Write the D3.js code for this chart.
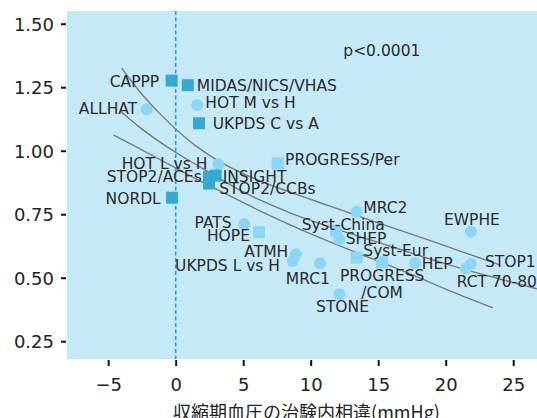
<!DOCTYPE html>
<html>
<head>
<meta charset="utf-8">
<script src="https://cdn.jsdelivr.net/npm/d3@7"></script>
<style>
  html, body { margin: 0; padding: 0; background: #fff; }
  svg { display: block; }
  .lbl { font-family: "DejaVu Sans", sans-serif; font-size: 15.5px; fill: #2a2a2a; }
  .tick-lbl { font-family: "DejaVu Sans", sans-serif; font-size: 18px; fill: #222; }
  .title { font-family: "Noto Sans CJK JP", sans-serif; font-size: 18px; fill: #222; }
</style>
</head>
<body>
<svg id="chart" width="537" height="418"></svg>
<script>
// Trials: systolic BP difference within trial (mmHg) vs. odds ratio
const studies = ["CAPPP", "MIDAS/NICS/VHAS", "ALLHAT", "HOT M vs H", "UKPDS C vs A",
  "HOT L vs H", "STOP2/ACEs", "INSIGHT", "STOP2/CCBs", "NORDL", "PROGRESS/Per",
  "PATS", "HOPE", "ATMH", "UKPDS L vs H", "MRC1", "STONE", "MRC2", "Syst-China",
  "SHEP", "Syst-Eur", "PROGRESS/COM", "HEP", "EWPHE", "STOP1", "RCT 70-80"];
const sbpDiff = [-0.3, 0.9, -2.15, 1.6, 1.73, 3.16, 2.47, 2.96, 2.47, -0.27, 7.56,
  5.08, 6.17, 8.91, 8.67, 10.69, 12.12, 13.41, 11.87, 12.12, 13.41, 15.28, 17.73,
  21.87, 21.87, 21.5];
const oddsRatio = [1.276, 1.258, 1.163, 1.18, 1.108, 0.947, 0.897, 0.902, 0.871, 0.815,
  0.95, 0.711, 0.679, 0.592, 0.566, 0.557, 0.435, 0.76, 0.685, 0.651, 0.579, 0.561,
  0.557, 0.681, 0.554, 0.537];
// marker kind: "c" circle, "s" light square, "d" dark square
const markerKind = ["d", "d", "c", "c", "d", "c", "d", "d", "d", "d", "s", "c", "s",
  "c", "c", "c", "c", "c", "s", "c", "s", "s", "c", "c", "c", "c"];

// Regression line and its confidence limits
const fitX = [-4.07, -2.64, -1.16, 0.32, 1.8, 3.28, 4.76, 6.24, 8.47, 11.87, 15.13,
  18.1, 21.06, 24.02, 26.76];
const fitY = [1.154, 1.091, 1.034, 0.983, 0.936, 0.889, 0.845, 0.806, 0.755, 0.692,
  0.637, 0.586, 0.538, 0.495, 0.456];
const upperX = [-4.0, -2.64, -1.16, 0.32, 1.8, 3.28, 4.76, 6.24, 8.47, 11.43, 14.39,
  18.1, 21.06, 24.02];
const upperY = [1.325, 1.231, 1.145, 1.07, 1.007, 0.956, 0.916, 0.881, 0.837, 0.782,
  0.727, 0.66, 0.605, 0.55];
const lowerX = [-4.62, -2.64, -0.42, 1.8, 4.02, 6.24, 8.47, 11.43, 14.39, 17.36,
  20.32, 23.5];
const lowerY = [1.062, 1.007, 0.944, 0.881, 0.822, 0.763, 0.708, 0.641, 0.578, 0.515,
  0.448, 0.381];

const xTicks = [-5, 0, 5, 10, 15, 20, 25];
const yTicks = [0.25, 0.5, 0.75, 1.0, 1.25, 1.5];
const xTitle = "収縮期血圧の治験内相違(mmHg)";
const pText = "p<0.0001";

// label layout: anchor, offset from marker centre (x), offset of cap centre (y)
const labelLayout = {
  "CAPPP": ["end", -12.4, 0.3],
  "MIDAS/NICS/VHAS": ["start", 9, -0.3],
  "ALLHAT": ["end", -9.4, -0.8],
  "HOT M vs H": ["start", 8, -2.5],
  "UKPDS C vs A": ["start", 13.7, 0],
  "HOT L vs H": ["end", -11, -1],
  "STOP2/ACEs": ["end", -7.3, -0.3],
  "INSIGHT": ["start", 7, 0.3],
  "STOP2/CCBs": ["start", 10.3, 5.3],
  "NORDL": ["end", -11.3, 1.1],
  "PROGRESS/Per": ["start", 7.3, -3.6],
  "PATS": ["end", -12.6, -2],
  "HOPE": ["end", -9, 3.5],
  "ATMH": ["end", -7.7, -2.6],
  "UKPDS L vs H": ["end", -12.7, 4],
  "MRC1": ["middle", -12.2, 15.5],
  "STONE": ["middle", 3.2, 12.4],
  "MRC2": ["start", 6.6, -4.2],
  "Syst-China": ["middle", 7.3, -6.5],
  "SHEP": ["start", 6.4, -1],
  "Syst-Eur": ["start", 6.6, -6.9],
  "PROGRESS/COM": ["middle", 0.2, 12.7, 30.2],
  "HEP": ["start", 6.7, 0],
  "EWPHE": ["middle", 1, -12.2],
  "STOP1": ["start", 14, -2.3],
  "RCT 70-80": ["start", -9.3, 12.9]
};

const svg = d3.select("#chart");
const plot = { left: 67, top: 11, right: 540.2, bottom: 359 };

const x = d3.scaleLinear().domain([-8.05, 27]).range([plot.left, plot.right]);
const y = d3.scaleLinear().domain([0.18, 1.55]).range([plot.bottom, plot.top]);

// plot background
svg.append("rect")
  .attr("x", plot.left).attr("y", plot.top)
  .attr("width", plot.right - plot.left).attr("height", plot.bottom - plot.top)
  .attr("fill", "#c6e9f8");

// y axis
const yAxis = d3.axisLeft(y).tickValues(yTicks).tickFormat(d3.format(".2f"))
  .tickSize(5).tickPadding(7);
const gy = svg.append("g").attr("transform", `translate(${plot.left - 1},0)`).call(yAxis);
gy.select(".domain").remove();
gy.selectAll(".tick line").attr("stroke", "#111").attr("stroke-width", 2);
gy.selectAll(".tick text").attr("class", "tick-lbl").attr("dy", "0.36em")
  .attr("font-family", null).attr("font-size", null).attr("fill", null);

// x axis
const xAxis = d3.axisBottom(x).tickValues(xTicks).tickFormat(d3.format("d"))
  .tickSize(6).tickPadding(0);
const gx = svg.append("g").attr("transform", `translate(0,${plot.bottom + 1})`).call(xAxis);
gx.select(".domain").remove();
gx.selectAll(".tick line").attr("stroke", "#111").attr("stroke-width", 2);
gx.selectAll(".tick text").attr("class", "tick-lbl").attr("y", 31).attr("dy", null)
  .attr("font-family", null).attr("font-size", null).attr("fill", null);

// axis title
svg.append("text").attr("class", "title")
  .attr("x", 306.5).attr("y", 419).attr("text-anchor", "middle")
  .text(xTitle);

// zero line
svg.append("line")
  .attr("x1", x(0)).attr("x2", x(0))
  .attr("y1", plot.top).attr("y2", plot.bottom)
  .attr("stroke", "#1fa3dc").attr("stroke-width", 1.6)
  .attr("stroke-dasharray", "4,2.5");

// regression curves
const line = d3.line().x(d => x(d[0])).y(d => y(d[1])).curve(d3.curveMonotoneX);
[[fitX, fitY], [upperX, upperY], [lowerX, lowerY]].forEach(([xs, ys]) => {
  svg.append("path")
    .datum(xs.map((v, i) => [v, ys[i]]))
    .attr("d", line)
    .attr("fill", "none")
    .attr("stroke", "#7a7a7a")
    .attr("stroke-width", 1.4);
});

// markers
const pts = studies.map((name, i) => ({ name, sx: sbpDiff[i], or: oddsRatio[i], kind: markerKind[i] }));
const colors = { c: "#8dd5f5", s: "#8dd5f5", d: "#37a8d1" };
const R = 6;
svg.append("g").selectAll("circle")
  .data(pts.filter(p => p.kind === "c"))
  .join("circle")
  .attr("cx", d => x(d.sx)).attr("cy", d => y(d.or)).attr("r", R)
  .attr("fill", colors.c);
svg.append("g").selectAll("rect")
  .data(pts.filter(p => p.kind !== "c"))
  .join("rect")
  .attr("x", d => x(d.sx) - R).attr("y", d => y(d.or) - R)
  .attr("width", 2 * R).attr("height", 2 * R)
  .attr("fill", d => colors[d.kind]);

// study labels
const capHalf = 5.65;
const lg = svg.append("g");
pts.forEach(p => {
  const [anchor, dx, dy, dy2] = labelLayout[p.name];
  const cx = x(p.sx), cy = y(p.or);
  if (dy2 !== undefined) {
    const parts = ["PROGRESS", "/COM"];
    [dy, dy2].forEach((o, k) => {
      lg.append("text").attr("class", "lbl")
        .attr("x", cx + dx).attr("y", cy + o + capHalf)
        .attr("text-anchor", anchor).text(parts[k]);
    });
  } else {
    lg.append("text").attr("class", "lbl")
      .attr("x", cx + dx).attr("y", cy + dy + capHalf)
      .attr("text-anchor", anchor).text(p.name);
  }
});

// significance
svg.append("text").attr("class", "lbl")
  .attr("x", 343.3).attr("y", 55.5).text(pText);
</script>
</body>
</html>
